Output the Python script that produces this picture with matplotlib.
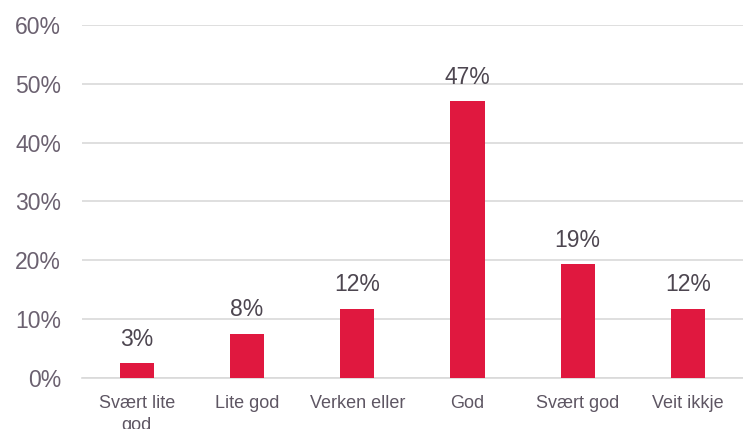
import matplotlib.pyplot as plt
from matplotlib.ticker import PercentFormatter

# Données
categories = ['Svært lite\ngod', 'Lite god', 'Verken eller', 'God', 'Svært god', 'Veit ikkje']
valeurs = [2.5, 7.5, 11.8, 47.0, 19.3, 11.8]
etiquettes = ['3%', '8%', '12%', '47%', '19%', '12%']
y_ticks = [0, 10, 20, 30, 40, 50, 60]

plt.rcParams['font.family'] = ['Liberation Sans', 'DejaVu Sans']

fig = plt.figure(figsize=(7.43, 4.29), dpi=100)
ax = fig.add_axes([0.110, 0.119, 0.890, 0.823])

x = range(len(categories))
barres = ax.bar(x, valeurs, width=0.31, color='#E0183F', zorder=3)

# Etiquettes au-dessus des barres
for b, txt in zip(barres, etiquettes):
    ax.annotate(txt, (b.get_x() + b.get_width() / 2, b.get_height()),
                xytext=(0, 9), textcoords='offset points',
                ha='center', va='bottom', fontsize=16.5, color='#4D4650')

ax.set_xlim(-0.5, len(categories) - 0.5)
ax.set_ylim(0, 60)
ax.set_yticks(y_ticks)
ax.yaxis.set_major_formatter(PercentFormatter(decimals=0))
ax.set_xticks(list(x))
ax.set_xticklabels(categories, linespacing=1.4)

ax.grid(axis='y', color='#D9D9D9', linewidth=1.2, zorder=0)
for s in ['top', 'right', 'left']:
    ax.spines[s].set_visible(False)
ax.spines['bottom'].set_color('#D9D9D9')
ax.spines['bottom'].set_linewidth(1.2)

ax.tick_params(axis='y', length=0, pad=15, labelsize=16.5, labelcolor='#6B6170')
ax.tick_params(axis='x', length=0, pad=12, labelsize=13, labelcolor='#5E5663')

fig.savefig('out.png', dpi=100)
